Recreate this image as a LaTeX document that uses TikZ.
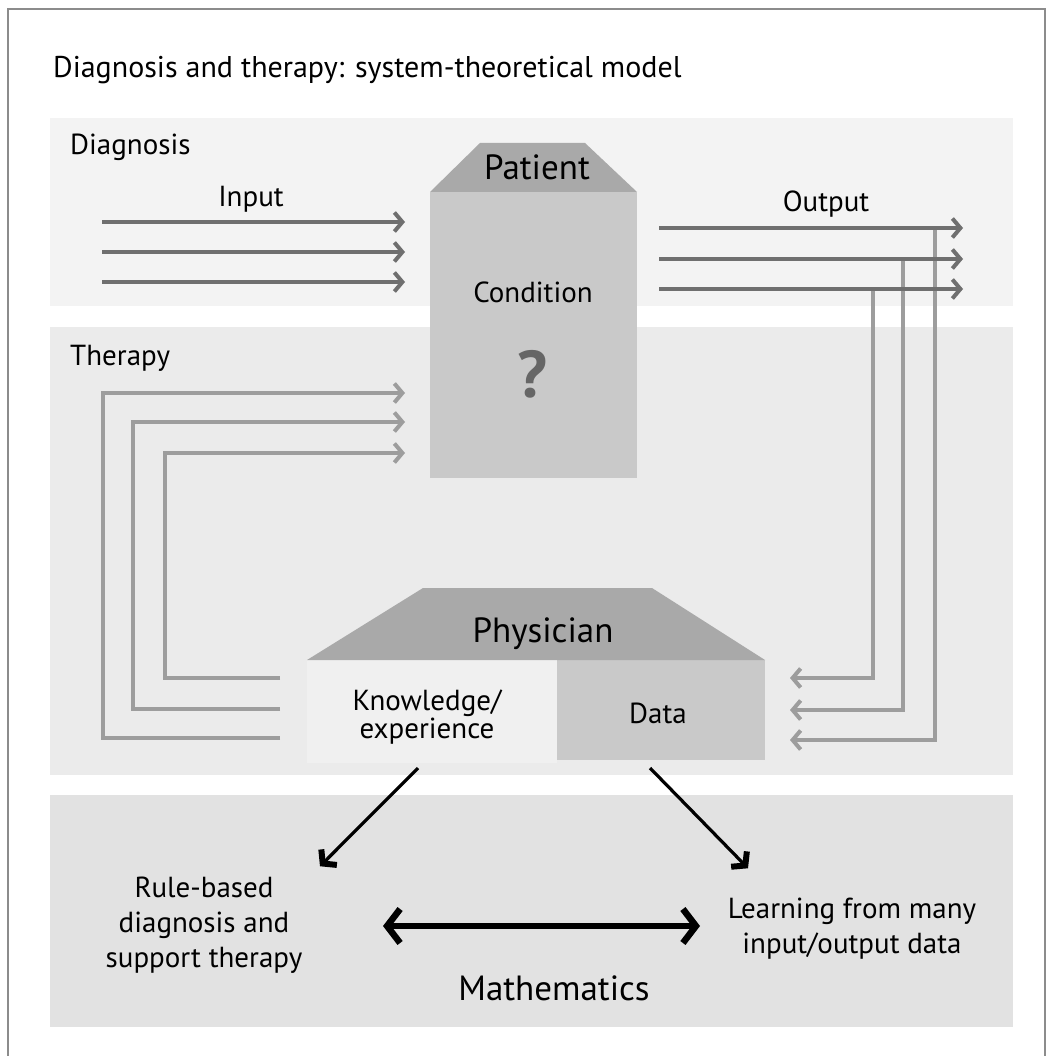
\documentclass[tikz,border=0pt]{standalone}
\usepackage{fontspec}
\setmainfont{PT Sans}
\usetikzlibrary{positioning}
\usetikzlibrary{arrows.meta}
\usetikzlibrary{calc}
\definecolor{bandLight}{HTML}{F3F3F3}
\definecolor{bandMid}{HTML}{EBEBEB}
\definecolor{bandDark}{HTML}{E2E2E2}
\definecolor{roofGray}{HTML}{A9A9A9}
\definecolor{boxGray}{HTML}{C9C9C9}
\definecolor{paleGray}{HTML}{F0F0F0}
\definecolor{sigGray}{HTML}{6F6F6F}
\definecolor{fbGray}{HTML}{9D9D9D}
\definecolor{qGray}{HTML}{666666}
\definecolor{rimGray}{HTML}{8C8C8C}

\begin{document}
\begin{tikzpicture}[
    x=1pt, y=-1pt,
    band/.style = {draw=none, anchor=north west, minimum width=963pt, inner sep=0pt, outer sep=0pt},
    block/.style = {draw=none, anchor=north west, inner sep=0pt, outer sep=0pt},
    lbl/.style = {inner sep=0pt, font=\fontsize{29}{29}\selectfont},
    big/.style = {lbl, font=\fontsize{35}{35}\selectfont},
    sig/.style = {line width=4pt, color=sigGray, -{Straight Barb[length=8pt, width=19pt]}},
    fb/.style = {sig, color=fbGray},
    pointer/.style = {line width=3.2pt, -{Straight Barb[length=9pt, width=22pt, line width=6pt]}},
    link/.style = {line width=6.5pt, {Straight Barb[length=13pt, width=34pt]}-{Straight Barb[length=13pt, width=34pt]}},
  ]

  \useasboundingbox (0,0) rectangle (1049,1056);
  \draw[rimGray, line width=1.5pt] (8,1056) -- (8,9) -- (1045,9) -- (1045,1056);

  % background bands
  \node[band, fill=bandLight, minimum height=188pt] (diag) at (50,118) {};
  \node[band, fill=bandMid, minimum height=448pt] (ther) at (50,327) {};
  \node[band, fill=bandDark, minimum height=232pt] (math) at (50,795) {};

  \node[lbl, anchor=base west, font=\fontsize{30}{30}\selectfont] (title) at (53,78) {Diagnosis and therapy: system-theoretical model};
  \node[lbl, anchor=base west] (diaglbl) at (70,155) {Diagnosis};
  \node[lbl, anchor=base west] (therlbl) at (70,365) {Therapy};

  % patient
  \node[block, fill=boxGray, minimum width=207pt, minimum height=286pt] (patient) at (430,192) {};
  \fill[roofGray] (patient.north west) -- ($(patient.north west)+(50,-49)$)
    -- ($(patient.north east)+(-52,-49)$) -- (patient.north east) -- cycle;
  \node[big, anchor=base] (pat) at (537,180) {Patient};
  \node[lbl, anchor=base] (cond) at (533,302) {Condition};
  \node[lbl, anchor=base, text=qGray, font=\bfseries\fontsize{66}{66}\selectfont] (q) at (532,397) {?};

  % physician
  \node[block, fill=paleGray, minimum width=250pt, minimum height=103pt] (know) at (307,660) {};
  \node[block, fill=boxGray, minimum width=208pt, minimum height=100pt] (data) at (557,660) {};
  \fill[roofGray] (know.north west) -- ($(know.north west)+(116,-72)$)
    -- ($(data.north east)+(-113,-72)$) -- (data.north east) -- cycle;
  \node[big, anchor=base] (phys) at (543,642) {Physician};
  \node[lbl, anchor=base, align=center, font=\fontsize{29}{26}\selectfont] (knowlbl) at (427,738) {Knowledge/\\experience};
  \node[lbl, anchor=base] (datalbl) at (658,723) {Data};

  \coordinate (in1) at (102,222);
  \coordinate (in2) at (102,252);
  \coordinate (in3) at (102,282);
  \coordinate (out1) at (963,228);
  \coordinate (out2) at (963,259);
  \coordinate (out3) at (963,289);
  \coordinate (fb1) at (935,740);
  \coordinate (fb2) at (903,710);
  \coordinate (fb3) at (873,678);
  \coordinate (th1) at (103,738);
  \coordinate (th2) at (133,709);
  \coordinate (th3) at (165,678);
  \coordinate (tt1) at (103,393);
  \coordinate (tt2) at (133,422);
  \coordinate (tt3) at (165,453);

  \node[lbl, anchor=base] (inlbl) at (251,207) {Input};
  \node[lbl, anchor=base] (outlbl) at (826,212) {Output};

  % output -> physician
  \draw[fb, shorten >=25pt] (fb1 |- out1) -- (fb1) -- (fb1 -| data.east);
  \draw[fb, shorten >=25pt] (fb2 |- out2) -- (fb2) -- (fb2 -| data.east);
  \draw[fb, shorten >=25pt] (fb3 |- out3) -- (fb3) -- (fb3 -| data.east);

  % input -> patient
  \draw[sig, shorten >=25pt] (in1) -- (in1 -| patient.west);
  \draw[sig, shorten >=25pt] (in2) -- (in2 -| patient.west);
  \draw[sig, shorten >=25pt] (in3) -- (in3 -| patient.west);

  % patient -> output
  \draw[sig, shorten <=22pt] (out1 -| patient.east) -- (out1);
  \draw[sig, shorten <=22pt] (out2 -| patient.east) -- (out2);
  \draw[sig, shorten <=22pt] (out3 -| patient.east) -- (out3);

  % physician -> patient (therapy)
  \draw[fb, shorten <=27pt, shorten >=25pt] (th1 -| know.west) -- (th1) |- (tt1 -| patient.west);
  \draw[fb, shorten <=27pt, shorten >=25pt] (th2 -| know.west) -- (th2) |- (tt2 -| patient.west);
  \draw[fb, shorten <=27pt, shorten >=25pt] (th3 -| know.west) -- (th3) |- (tt3 -| patient.west);

  % lower panel
  \node[lbl, anchor=base, align=center, font=\fontsize{29}{35}\selectfont] (rule) at (204,967) {Rule-based\\diagnosis and\\support therapy};
  \node[lbl, anchor=base, align=center, font=\fontsize{29}{35}\selectfont] (learn) at (852,953) {Learning from many\\input/output data};
  \node[big, anchor=base] (mathlbl) at (554,1000) {Mathematics};

  % physician -> methods
  \draw[pointer] ($(know.south)+(-14,5)$) -- ($(rule.north)+(116,-10)$);
  \draw[pointer] ($(data.south)+(-11,8)$) -- ($(learn.north)+(-104,-29)$);
  \draw[link] ($(mathlbl.base)+(-171,-74)$) -- ($(mathlbl.base)+(146,-74)$);
\end{tikzpicture}
\end{document}
